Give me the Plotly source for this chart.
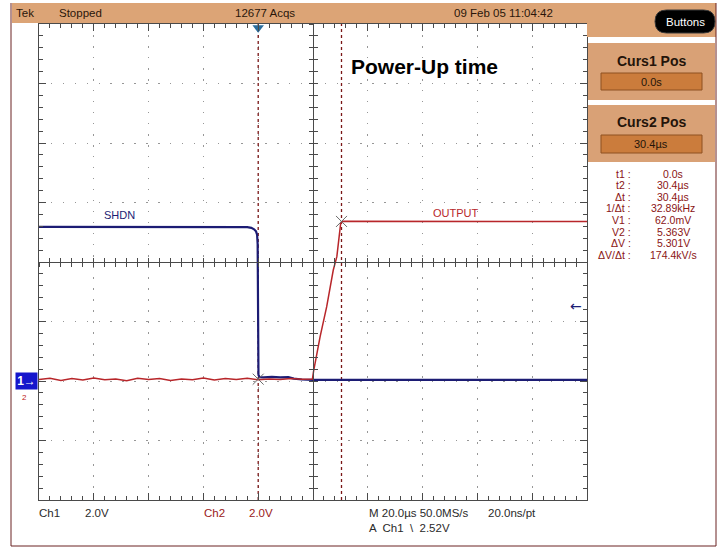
import plotly.graph_objects as go

# ---------------- data ----------------
# time in microseconds, voltage in volts (2 V/div, ground 2 div below centre)
shdn_t = [-80, -60, -40, -20, -8, -4, -2.5, -1.5, -0.8, -0.4, -0.2, 0.1, 0.5, 2, 5, 8, 11, 13, 16, 20, 40, 60, 80, 100, 120]
shdn_v = [5.18, 5.18, 5.18, 5.18, 5.18, 5.17, 5.15, 5.10, 5.03, 4.92, 4.60, 0.20, 0.13, 0.12, 0.14, 0.12, 0.13, 0.08, 0.05, 0.04, 0.04, 0.04, 0.04, 0.04, 0.04]

out_t = [-80, -76, -72, -68, -64, -60, -56, -52, -48, -44, -40, -36, -32, -28, -24, -20, -16, -12, -8, -4,
         0, 4, 8, 12, 16, 19.8, 20.2, 22.6, 25.0, 27.4, 28.7, 30.1, 30.8, 40, 60, 80, 100, 120]
out_v = [0.05, 0.09, 0.02, 0.08, 0.03, 0.10, 0.04, 0.07, 0.01, 0.09, 0.05, 0.08, 0.02, 0.07, 0.04, 0.10, 0.03, 0.08, 0.05, 0.09,
         0.04, 0.07, 0.05, 0.08, 0.06, 0.07, 0.32, 1.49, 2.50, 3.73, 4.18, 5.30, 5.37, 5.37, 5.36, 5.37, 5.36, 5.36]

cursor_t = [0.0, 30.4]
cursor_v = [0.062, 5.363]
trigger_level = 2.52

x_range = [-80, 120]   # 10 div x 20 us
y_range = [-4, 12]     # 8 div x 2 V

readout_labels = ["t1 :", "t2 :", "\u0394t :", "1/\u0394t :", "V1 :", "V2 :", "\u0394V :", "\u0394V/\u0394t :"]
readout_values = ["0.0s", "30.4\u00b5s", "30.4\u00b5s", "32.89kHz", "62.0mV", "5.363V", "5.301V", "174.4kV/s"]

# ---------------- geometry helpers (pixels -> paper) ----------------
W, H = 719, 548
L, T, PW, PH = 39, 24, 548, 476


def px(x):
    return (x - L) / PW


def py(y):
    return (T + PH - y) / PH


NAVY = "#1c1c74"
RED = "#b8262a"
CURS = "#7a1616"
TEK = "#DCA476"
FONT = "Liberation Sans Narrow, Liberation Sans, Arial, sans-serif"
BOLD = "Liberation Sans, Arial, sans-serif"

fig = go.Figure()

# cursors
for ct in cursor_t:
    fig.add_trace(go.Scatter(x=[ct, ct], y=y_range, mode="lines",
                             line=dict(color=CURS, width=1.3, dash="3px,3px"),
                             hoverinfo="skip", showlegend=False))

fig.add_trace(go.Scatter(x=shdn_t, y=shdn_v, mode="lines", name="SHDN",
                         line=dict(color=NAVY, width=2.2), showlegend=False))
fig.add_trace(go.Scatter(x=out_t, y=out_v, mode="lines", name="OUTPUT",
                         line=dict(color=RED, width=1.5), showlegend=False))

# cursor crossing marks
fig.add_trace(go.Scatter(x=cursor_t, y=cursor_v, mode="markers",
                         marker=dict(symbol="x-thin-open", size=11, color="#6a6a6a",
                                     line=dict(color="#6a6a6a", width=1)),
                         hoverinfo="skip", showlegend=False))

# trigger position marker at top
fig.add_trace(go.Scatter(x=[cursor_t[0]], y=[y_range[1] - 0.13], mode="markers", cliponaxis=False,
                         marker=dict(symbol="triangle-down", size=10, color="#2a6c9c"),
                         hoverinfo="skip", showlegend=False))

# dummy traces for the centre cross-hair axes
fig.add_trace(go.Scatter(x=[None], y=[None], xaxis="x2", yaxis="y2", showlegend=False, hoverinfo="skip"))
fig.add_trace(go.Scatter(x=[None], y=[None], xaxis="x3", yaxis="y3", showlegend=False, hoverinfo="skip"))

AX = "#4a4a4a"
GRID = "#979797"

fig.update_layout(
    width=W, height=H, autosize=False,
    margin=dict(l=L, r=W - L - PW, t=T, b=H - T - PH, pad=0),
    paper_bgcolor="white", plot_bgcolor="white",
    xaxis=dict(range=x_range, tickmode="linear", tick0=-80, dtick=20,
               showticklabels=False, ticks="inside", ticklen=7, tickcolor=AX, tickwidth=1,
               showline=True, linecolor=AX, linewidth=1, mirror="allticks",
               showgrid=True, gridcolor=GRID, gridwidth=1.4, griddash="1.5px,9.5px",
               zeroline=False, fixedrange=True,
               minor=dict(tick0=-80, dtick=4, ticks="inside", ticklen=4, tickcolor=AX, showgrid=False)),
    yaxis=dict(range=y_range, tickmode="linear", tick0=-4, dtick=2,
               showticklabels=False, ticks="inside", ticklen=7, tickcolor=AX, tickwidth=1,
               showline=True, linecolor=AX, linewidth=1, mirror="allticks",
               showgrid=True, gridcolor=GRID, gridwidth=1.4, griddash="1.5px,10.4px",
               zeroline=False, fixedrange=True,
               minor=dict(tick0=-4, dtick=0.4, ticks="inside", ticklen=4, tickcolor=AX, showgrid=False)),
    xaxis2=dict(range=x_range, overlaying="x", anchor="free", position=0.5, side="bottom",
                tickmode="linear", tick0=-80, dtick=4, ticks="inside", ticklen=4, tickcolor=AX,
                showticklabels=False, showline=True, linecolor=AX, linewidth=1,
                showgrid=False, zeroline=False, fixedrange=True),
    xaxis3=dict(range=x_range, overlaying="x", anchor="free", position=0.5, side="bottom",
                tickmode="linear", tick0=-80, dtick=4, ticks="outside", ticklen=4, tickcolor=AX,
                showticklabels=False, showline=False,
                showgrid=False, zeroline=False, fixedrange=True),
    yaxis2=dict(range=y_range, overlaying="y", anchor="free", position=0.5, side="left",
                tickmode="linear", tick0=-4, dtick=0.4, ticks="inside", ticklen=4, tickcolor=AX,
                showticklabels=False, showline=True, linecolor=AX, linewidth=1,
                showgrid=False, zeroline=False, fixedrange=True),
    yaxis3=dict(range=y_range, overlaying="y", anchor="free", position=0.5, side="left",
                tickmode="linear", tick0=-4, dtick=0.4, ticks="outside", ticklen=4, tickcolor=AX,
                showticklabels=False, showline=False,
                showgrid=False, zeroline=False, fixedrange=True),
)

shapes = []
annots = []


def rect(x0, y0, x1, y1, fill, line=None, lw=0):
    shapes.append(dict(type="rect", xref="paper", yref="paper",
                       x0=px(x0), x1=px(x1), y0=py(y1), y1=py(y0),
                       fillcolor=fill, line=dict(color=line or fill, width=lw), layer="above"))


def text(x, y, s, size=11, color="#2a160a", anchor="left", family=FONT, bold=False):
    if bold:
        s = "<b>" + s + "</b>"
    annots.append(dict(xref="paper", yref="paper", x=px(x), y=py(y), text=s, showarrow=False,
                       xanchor=anchor, yanchor="middle", borderpad=0,
                       font=dict(size=size, color=color, family=family)))


# top status band
rect(12, 3, 716, 23, TEK)
rect(587, 3, 716, 37, TEK)
# outer frame lines
shapes.append(dict(type="line", xref="paper", yref="paper", x0=px(11), x1=px(11), y0=py(546), y1=py(3),
                   line=dict(color="#6a2222", width=1)))
shapes.append(dict(type="line", xref="paper", yref="paper", x0=px(11), x1=px(716), y0=py(546), y1=py(546),
                   line=dict(color="#6a2222", width=1)))
shapes.append(dict(type="line", xref="paper", yref="paper", x0=px(716), x1=px(716), y0=py(546), y1=py(3),
                   line=dict(color="#6a2222", width=1)))

text(15, 13, "Tek", 11.5)
text(58, 13, "Stopped", 11.5)
text(234, 13, "12677 Acqs", 11.5)
text(453, 13, "09 Feb 05 11:04:42", 11.5)


# Buttons pill
def pill(x0, y0, x1, y1):
    r = (y1 - y0) / 2
    X = lambda v: px(v)
    Y = lambda v: py(v)
    p = (f"M {X(x0 + r)},{Y(y0)} L {X(x1 - r)},{Y(y0)} "
         f"Q {X(x1)},{Y(y0)} {X(x1)},{Y(y0 + r)} Q {X(x1)},{Y(y1)} {X(x1 - r)},{Y(y1)} "
         f"L {X(x0 + r)},{Y(y1)} Q {X(x0)},{Y(y1)} {X(x0)},{Y(y0 + r)} Q {X(x0)},{Y(y0)} {X(x0 + r)},{Y(y0)} Z")
    shapes.append(dict(type="path", xref="paper", yref="paper", path=p,
                       fillcolor="black", line=dict(color="#3a3a3a", width=1), layer="above"))


pill(655, 10, 715, 33)
text(685, 21.5, "Buttons", 11.5, "white", "center")

# cursor panels
rect(588, 43, 715, 100, "#D9A176")
rect(601, 73, 702, 90, "#CB7C3C", "#8e5020", 1)
text(651, 61, "Curs1 Pos", 14, "#24140a", "center", BOLD, bold=True)
text(651, 81.5, "0.0s", 11, "#24140a", "center")

rect(588, 105, 715, 162, "#D9A176")
rect(601, 135, 702, 153, "#CB7C3C", "#8e5020", 1)
text(651, 122, "Curs2 Pos", 14, "#24140a", "center", BOLD, bold=True)
text(651, 144, "30.4\u00b5s", 11, "#24140a", "center")

for i, (lab, val) in enumerate(zip(readout_labels, readout_values)):
    yy = 173.5 + i * 11.6
    text(632, yy, lab, 10.5, "#8a1414", "right")
    text(673, yy, val, 10.5, "#8a1414", "center")

# labels on the screen
text(350, 66, "Power-Up time", 21, "black", "left", BOLD, bold=True)
text(103, 215, "SHDN", 11, NAVY)
text(432, 213, "OUTPUT", 11, RED)

# bottom readouts
text(38, 513, "Ch1", 11.5, "#2a2a2a")
text(84, 513, "2.0V", 11.5, "#2a2a2a")
text(203, 513, "Ch2", 11.5, "#9a2020")
text(248, 513, "2.0V", 11.5, "#9a2020")
text(368, 513, "M 20.0\u00b5s 50.0MS/s", 11.5, "#2a2a2a")
text(487, 513, "20.0ns/pt", 11.5, "#2a2a2a")
text(368, 528, "A  Ch1  \\  2.52V", 11.5, "#2a2a2a")

# channel ground marker (Ch1 at 0 V) and trigger level arrow
annots.append(dict(xref="paper", yref="y", x=px(15), y=0, text="<b>1</b>\u2192", showarrow=False,
                   xanchor="left", yanchor="middle", bgcolor="#1616cc", width=21, height=16, borderpad=0,
                   font=dict(size=12, color="white", family=FONT)))
annots.append(dict(xref="paper", yref="y", x=px(24), y=-0.35, text="2", showarrow=False,
                   xanchor="center", yanchor="top", font=dict(size=8, color="#c02020", family=FONT)))
annots.append(dict(xref="paper", yref="y", x=px(584), y=trigger_level, text="\u2190", showarrow=False,
                   xanchor="right", yanchor="middle", font=dict(size=14, color=NAVY, family="DejaVu Sans")))

fig.update_layout(shapes=shapes, annotations=annots)
fig.write_html("out.html", config={"displayModeBar": False},
               post_script="document.body.style.margin='0px';document.body.style.padding='0px';")
